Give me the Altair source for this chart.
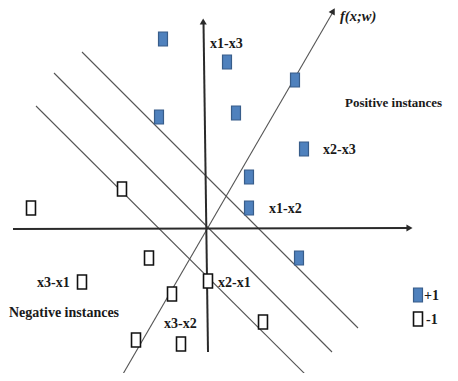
import altair as alt
import pandas as pd

# Positive (+1) instances, image pixel coordinates (x right, y down)
pos_x = [163, 227, 295, 159, 236, 304, 249, 249, 299]
pos_y = [39, 62, 80, 117, 113, 149, 177, 208, 258]
# Negative (-1) instances
neg_x = [31, 122, 149, 82, 172, 208, 136, 181, 263]
neg_y = [208, 189, 258, 282, 294, 281, 340, 344, 322]
# Legend symbols
leg_x = [418, 418]
leg_y = [295, 319]
leg_cls = ["+1", "-1"]

# Line segments
seg_name = ["h_axis", "v_axis", "f_line", "margin1", "margin2", "margin3"]
seg_x1 = [13, 208, 123, 82, 54, 36]
seg_y1 = [229, 352, 374, 52, 73, 106]
seg_x2 = [409, 203.5, 333, 358, 332, 311]
seg_y2 = [228, 22, 12, 328, 352, 380]
seg_kind = ["axis", "axis", "thin", "thin", "thin", "thin"]

# Arrow heads
arr_x = [409.5, 203.2, 333.2]
arr_y = [228, 21.5, 11]
arr_ang = [90, 359, 30]

# Labels (left x, middle y)
lab_text = ["x1-x3", "Positive instances", "x2-x3", "x1-x2", "x2-x1",
            "x3-x1", "Negative instances", "x3-x2", "+1", "-1"]
lab_x = [210, 345, 323, 269, 218, 37, 9, 164, 424, 426]
lab_y = [44, 103, 150, 209, 283, 283, 313, 324, 296, 320]
lab_size = [14, 13, 14, 14, 14, 14, 14, 14, 14, 14]
f_text = ["f(x;w)"]
f_x = [340]
f_y = [17]

X = alt.Scale(domain=[8, 450])
Y = alt.Scale(domain=[8, 373], reverse=True)

pts = pd.DataFrame({
    "x": pos_x + neg_x + leg_x,
    "y": pos_y + neg_y + leg_y,
    "cls": ["+1"] * len(pos_x) + ["-1"] * len(neg_x) + leg_cls,
})
segs = pd.DataFrame({"name": seg_name, "x1": seg_x1, "y1": seg_y1,
                     "x2": seg_x2, "y2": seg_y2, "kind": seg_kind})
arrows = pd.DataFrame({"x": arr_x, "y": arr_y, "ang": arr_ang})
labels = pd.DataFrame({"t": lab_text, "x": lab_x, "y": lab_y, "s": lab_size})
flab = pd.DataFrame({"t": f_text, "x": f_x, "y": f_y})

ex = alt.X("x1:Q", scale=X, axis=None)
ey = alt.Y("y1:Q", scale=Y, axis=None)

axis_rules = alt.Chart(segs).transform_filter(alt.datum.kind == "axis").mark_rule(
    color="#2a2a2a", strokeWidth=2
).encode(x=ex, y=ey, x2="x2:Q", y2="y2:Q")

thin_rules = alt.Chart(segs).transform_filter(alt.datum.kind == "thin").mark_rule(
    color="#555555", strokeWidth=1.1
).encode(x=ex, y=ey, x2="x2:Q", y2="y2:Q")

heads = alt.Chart(arrows).mark_point(
    shape="triangle-up", filled=True, size=50, color="#2a2a2a", opacity=1
).encode(
    x=alt.X("x:Q", scale=X, axis=None),
    y=alt.Y("y:Q", scale=Y, axis=None),
    angle=alt.Angle("ang:Q", scale=None),
)

rect_path = "M-0.64,-1L0.64,-1L0.64,1L-0.64,1Z"
squares = alt.Chart(pts).mark_point(
    shape=rect_path, size=196, filled=True, opacity=1
).encode(
    x=alt.X("x:Q", scale=X, axis=None),
    y=alt.Y("y:Q", scale=Y, axis=None),
    fill=alt.Fill("cls:N", scale=alt.Scale(domain=["+1", "-1"], range=["#4F81BD", "#FFFFFF"]), legend=None),
    stroke=alt.Stroke("cls:N", scale=alt.Scale(domain=["+1", "-1"], range=["#385D8A", "#111111"]), legend=None),
    strokeWidth=alt.StrokeWidth("cls:N", scale=alt.Scale(domain=["+1", "-1"], range=[1.2, 1.6]), legend=None),
)

texts = alt.Chart(labels).mark_text(
    align="left", baseline="middle", font="Liberation Serif", fontWeight="bold",
    color="#1a1a1a"
).encode(
    x=alt.X("x:Q", scale=X, axis=None),
    y=alt.Y("y:Q", scale=Y, axis=None),
    size=alt.Size("s:Q", scale=None),
    text="t:N",
)

ftext = alt.Chart(flab).mark_text(
    align="left", baseline="middle", font="Liberation Serif", fontStyle="italic",
    fontWeight="bold", fontSize=14.5, color="#1a1a1a"
).encode(
    x=alt.X("x:Q", scale=X, axis=None),
    y=alt.Y("y:Q", scale=Y, axis=None),
    text="t:N",
)

chart = alt.layer(thin_rules, axis_rules, heads, squares, texts, ftext).properties(
    width=442, height=365, padding=0, autosize=alt.AutoSizeParams(type="none"),
    background="white"
).configure_view(strokeWidth=0)

chart.save("out.html", embed_options={"renderer": "svg", "actions": False})
